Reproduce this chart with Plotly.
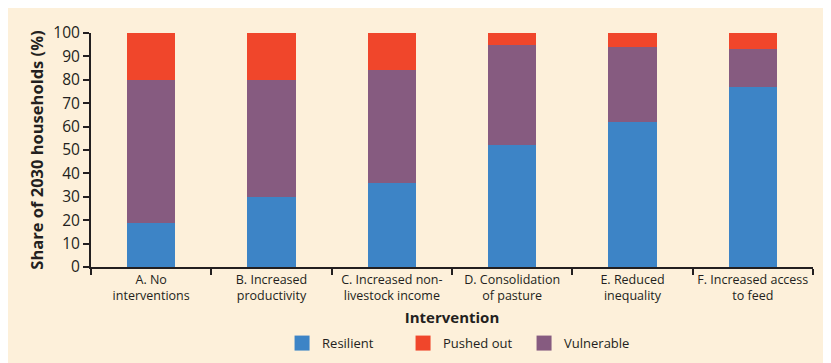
import plotly.graph_objects as go

# share of 2030 households (%) per intervention scenario
categories = [
    "A. No<br>interventions",
    "B. Increased<br>productivity",
    "C. Increased non-<br>livestock income",
    "D. Consolidation<br>of pasture",
    "E. Reduced<br>inequality",
    "F. Increased access<br>to feed",
]
resilient = [19, 30, 36, 52, 62, 77]
vulnerable = [61, 50, 48, 43, 32, 16]
pushed_out = [20, 20, 16, 5, 6, 7]

y_ticks = list(range(0, 101, 10))

BLUE = "#3d84c6"
RED = "#f0462b"
PURPLE = "#865b80"
CREAM = "#fdf0da"
INK = "#231f20"
FONT = "Open Sans"

fig = go.Figure()

# stacked bars: resilient at the bottom, pushed out on top
for name, values, color in [
    ("Resilient", resilient, BLUE),
    ("Vulnerable", vulnerable, PURPLE),
    ("Pushed out", pushed_out, RED),
]:
    fig.add_trace(
        go.Bar(
            name=name,
            x=categories,
            y=values,
            marker=dict(color=color, line=dict(width=0)),
            width=0.4,
            showlegend=False,
            hoverinfo="skip",
        )
    )

# legend entries in the order of the original (bigger squares than bar swatches)
for name, color in [("Resilient", BLUE), ("Pushed out", RED), ("Vulnerable", PURPLE)]:
    fig.add_trace(
        go.Scatter(
            name=name,
            x=[None],
            y=[None],
            mode="markers",
            marker=dict(symbol="square", size=15, color=color),
        )
    )

# the page body adds an 8px white margin, so the figure is 8px smaller
fig.update_layout(
    barmode="stack",
    width=823,
    height=355,
    margin=dict(l=83, r=18, t=25, b=96, autoexpand=False),
    paper_bgcolor=CREAM,
    plot_bgcolor=CREAM,
    font=dict(family=FONT, size=13, color=INK),
    legend=dict(
        orientation="h",
        traceorder="normal",
        entrywidth=76,
        x=0.516,
        xanchor="center",
        yref="container",
        y=0.056,
        yanchor="middle",
        font=dict(size=13, color=INK),
        bgcolor="rgba(0,0,0,0)",
    ),
)

fig.update_xaxes(
    type="category",
    range=[-0.5, 5.5],
    tickson="boundaries",
    tickangle=0,
    automargin=False,
    ticks="outside",
    ticklen=6,
    tickwidth=1.5,
    tickcolor=INK,
    showline=True,
    linecolor=INK,
    linewidth=2,
    showgrid=False,
    tickfont=dict(size=12.5, color=INK),
    title=dict(
        text="<b>Intervention</b>",
        font=dict(size=15, color=INK),
        standoff=9,
    ),
)

fig.update_yaxes(
    range=[0, 100],
    tickvals=y_ticks,
    automargin=False,
    ticks="outside",
    ticklen=6,
    tickwidth=1.5,
    tickcolor=INK,
    showline=True,
    linecolor=INK,
    linewidth=2,
    showgrid=False,
    zeroline=False,
    tickfont=dict(size=15.5, color=INK),
    title=dict(
        text="<b>Share of 2030 households (%)</b>",
        font=dict(size=16.5, color=INK),
        standoff=6,
    ),
)

fig.write_html("out.html")
